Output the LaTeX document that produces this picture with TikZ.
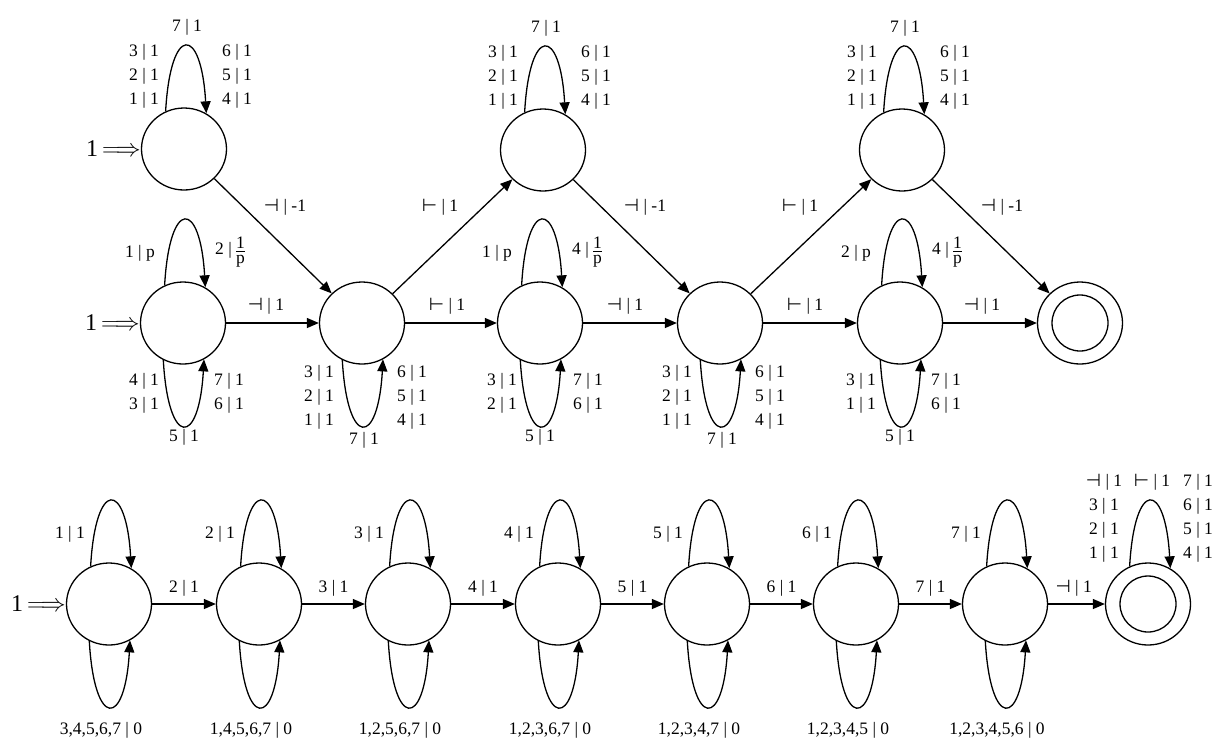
\documentclass[tikz,border=0pt]{standalone}
\usepackage{fontspec}
\setmainfont{Liberation Serif}
\newfontfamily\symf{DejaVu Sans}
\usetikzlibrary{arrows.meta,calc,shapes.geometric}
\newcommand\uloop[1]{\draw[arr] (#1.116) .. controls +(5,-88) and +(-5,-88) .. (#1.58);}
\newcommand\dloop[1]{\draw[arr] (#1.242) .. controls +(5,88) and +(-5,88) .. (#1.300);}
\newcommand\fr{\raisebox{-0.5em}{\vbox{\halign{\hfil##\hfil\cr 1\cr\noalign{\kern2.5pt\hrule height 0.9pt\kern3pt}p\cr}}}}
\newcommand\dv{{\symf ⊣}}
\newcommand\vd{{\symf ⊢}}
\begin{document}
\begin{tikzpicture}[x=1pt,y=-1pt,
  st/.style={ellipse,draw,line width=1.3pt,minimum width=85pt,minimum height=82pt,inner sep=0pt},
  inner/.style={circle,draw,line width=1.3pt,minimum size=56pt,inner sep=0pt},
  arr/.style={line width=1.3pt,-{Triangle[length=12pt,width=10pt]}},
  lab/.style={font=\fontsize{17.5}{24}\selectfont,inner sep=0pt,align=center},
  init/.style={font=\fontsize{24}{24}\selectfont,inner sep=0pt,anchor=east}]
\useasboundingbox (0,0) rectangle (1217,740);
% ---- upper automaton ----
\node[st] (A1) at (184,149) {};
\node[st] (B1) at (183,323) {};
\node[st] (C) at (362,323) {};
\node[st] (Dt) at (543,150) {};
\node[st] (D) at (540,323) {};
\node[st] (E) at (720,323) {};
\node[st] (Ft) at (902,150) {};
\node[st] (F) at (900,323) {};
\node[st] (G) at (1080,323) {};
\node[inner] (Gin) at (G) {};
\node[init] (iA) at (A1.west) {1\,$\Longrightarrow$};
\node[init] (iB) at (B1.west) {1\,$\Longrightarrow$};
% top loops on A1, Dt, Ft
\foreach \n in {A1,Dt,Ft}{
  \uloop{\n}
  \node[lab] (\n l) at ($(\n)+(-40,-73)$) {3 | 1\\2 | 1\\1 | 1};
  \node[lab] (\n r) at ($(\n)+(53,-73)$) {6 | 1\\5 | 1\\4 | 1};
  \node[lab] (\n t) at ($(\n)+(3,-122)$) {7 | 1};
}
% B1 loops
\uloop{B1}\dloop{B1}
\node[lab] (B1tl) at ($(B1)+(-43,-70)$) {1 | p};
\node[lab] (B1tr) at ($(B1)+(47,-71)$) {2 | \fr};
\node[lab] (B1bl) at ($(B1)+(-39,70)$) {4 | 1\\3 | 1};
\node[lab] (B1br) at ($(B1)+(46,70)$) {7 | 1\\6 | 1};
\node[lab] (B1b) at ($(B1)+(1,114)$) {5 | 1};
% C and E bottom loops
\foreach \n in {C,E}{
  \dloop{\n}
  \node[lab] (\n bl) at ($(\n)+(-43,74)$) {3 | 1\\2 | 1\\1 | 1};
  \node[lab] (\n br) at ($(\n)+(50,74)$) {6 | 1\\5 | 1\\4 | 1};
  \node[lab] (\n b) at ($(\n)+(2,117)$) {7 | 1};
}
% D loops
\uloop{D}\dloop{D}
\node[lab] (Dtl) at ($(D)+(-43,-70)$) {1 | p};
\node[lab] (Dtr) at ($(D)+(47,-71)$) {4 | \fr};
\node[lab] (Dbl) at ($(D)+(-38,70)$) {3 | 1\\2 | 1};
\node[lab] (Dbr) at ($(D)+(48,70)$) {7 | 1\\6 | 1};
\node[lab] (Db) at ($(D)+(0,114)$) {5 | 1};
% F loops
\uloop{F}\dloop{F}
\node[lab] (Ftl) at ($(F)+(-44,-70)$) {2 | p};
\node[lab] (Ftr) at ($(F)+(47,-71)$) {4 | \fr};
\node[lab] (Fbl) at ($(F)+(-39,70)$) {3 | 1\\1 | 1};
\node[lab] (Fbr) at ($(F)+(46,70)$) {7 | 1\\6 | 1};
\node[lab] (Fb) at ($(F)+(0,114)$) {5 | 1};
% edges
\draw[arr] (A1) -- (C);
\draw[arr] (C) -- (Dt);
\draw[arr] (Dt) -- (E);
\draw[arr] (E) -- (Ft);
\draw[arr] (Ft) -- (G);
\draw[arr] (B1) -- (C);
\draw[arr] (C) -- (D);
\draw[arr] (D) -- (E);
\draw[arr] (E) -- (F);
\draw[arr] (F) -- (G);
\node[lab] (eAC) at (285,207) {\dv{} | -1};
\node[lab] (eCD) at (440,207) {\vd{} | 1};
\node[lab] (eDE) at (645,207) {\dv{} | -1};
\node[lab] (eEF) at (800,207) {\vd{} | 1};
\node[lab] (eFG) at (1002,207) {\dv{} | -1};
\node[lab] (hBC) at (266,306) {\dv{} | 1};
\node[lab] (hCD) at (447,306) {\vd{} | 1};
\node[lab] (hDE) at (625,306) {\dv{} | 1};
\node[lab] (hEF) at (805,306) {\vd{} | 1};
\node[lab] (hFG) at (982,306) {\dv{} | 1};
% ---- lower automaton ----
\foreach \i/\x in {1/109,2/259,3/408,4/558,5/707,6/856,7/1005}
  \node[st] (S\i) at (\x,604) {};
\node[st] (H) at (1148,604) {};
\node[inner] (Hin) at (H) {};
\node[init] (iS) at (S1.west) {1\,$\Longrightarrow$};
\foreach \i/\t in {1/{3,4,5,6,7},2/{1,4,5,6,7},3/{1,2,5,6,7},4/{1,2,3,6,7},5/{1,2,3,4,7},6/{1,2,3,4,5},7/{1,2,3,4,5,6}}{
  \uloop{S\i}\dloop{S\i}
  \node[lab] (S\i t) at ($(S\i)+(-39,-70)$) {\i{} | 1};
  \node[lab] (S\i b) at ($(S\i)+(-8,126)$) {\t{} | 0};
}
\foreach \i/\j in {1/2,2/3,3/4,4/5,5/6,6/7}
  \draw[arr] (S\i) -- (S\j) node[lab,midway,yshift=16pt] (e\i\j) {\j{} | 1};
\draw[arr] (S7) -- (H) node[lab,pos=0.45,yshift=16pt] (e7H) {\dv{} | 1};
\uloop{H}
\node[lab] (Hl) at (1104,518) {\dv{} | 1\\3 | 1\\2 | 1\\1 | 1};
\node[lab] (Hm) at (1152,482) {\vd{} | 1};
\node[lab] (Hr) at (1198,518) {7 | 1\\6 | 1\\5 | 1\\4 | 1};
\end{tikzpicture}
\end{document}
